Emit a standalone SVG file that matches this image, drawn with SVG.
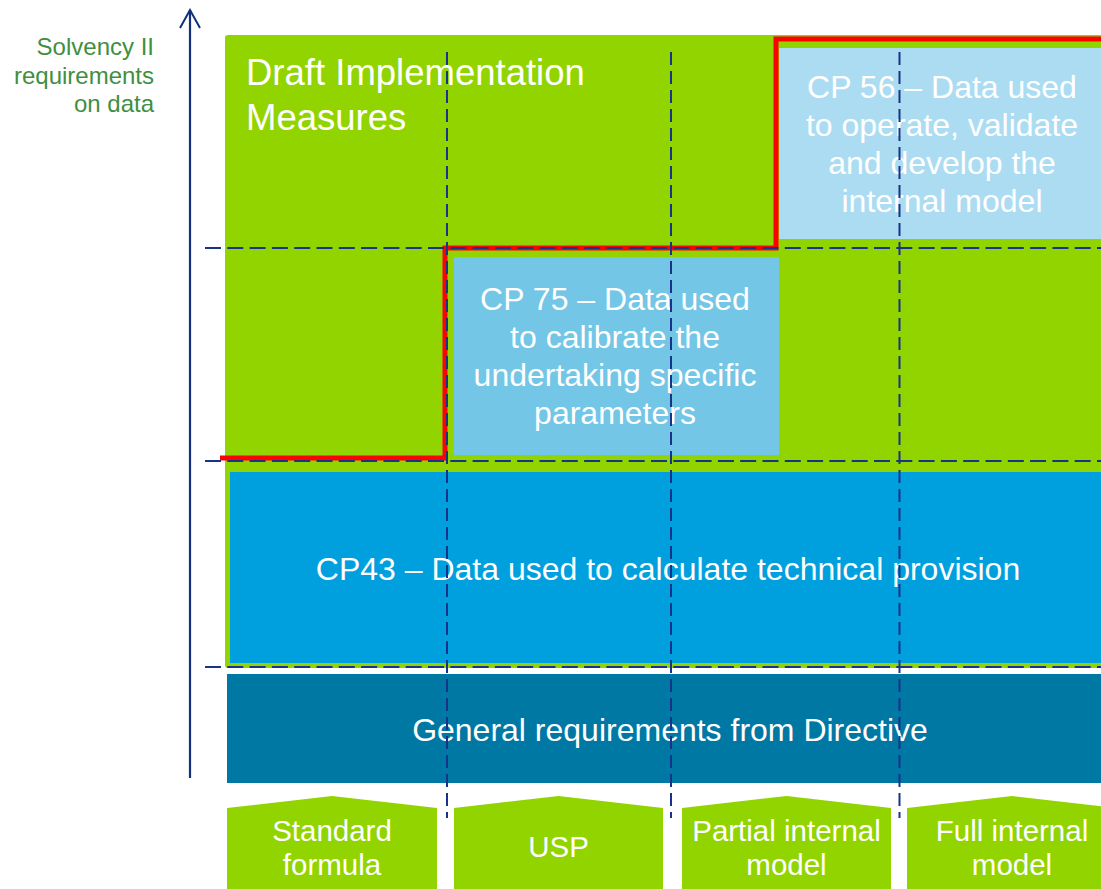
<svg xmlns="http://www.w3.org/2000/svg" width="1101" height="889" viewBox="0 0 1101 889">
  <style>
    text { font-family: "Liberation Sans", Arial, sans-serif; fill: #ffffff; }
    .lbl { font-size: 32px; text-anchor: middle; }
    .tab { font-size: 29.5px; text-anchor: middle; }
    .axis-lbl { font-size: 24px; fill: #3f8f3f; text-anchor: end; }
    .grid { stroke: #17338a; stroke-width: 2; fill: none; }
    .grid-h { stroke-dasharray: 16 6.3; }
    .grid-v { stroke-dasharray: 13 6; }
    .tabshape { fill: #92d400; }
  </style>
  <defs>
    <marker id="openArrow" viewBox="0 0 22 22" refX="20" refY="11" markerWidth="22" markerHeight="22" markerUnits="userSpaceOnUse" orient="auto">
      <path d="M2,1 L20,11 L2,21" fill="none" stroke="#13307a" stroke-width="2"/>
    </marker>
  </defs>

  <rect width="1101" height="889" fill="#ffffff"/>

  <!-- vertical axis -->
  <g id="axis">
    <line x1="190" y1="778" x2="190" y2="10" stroke="#13307a" stroke-width="2.2" marker-end="url(#openArrow)"/>
    <text class="axis-lbl" x="154" y="55">Solvency II</text>
    <text class="axis-lbl" x="154" y="84">requirements</text>
    <text class="axis-lbl" x="154" y="112">on data</text>
  </g>

  <!-- implementation measures area -->
  <g id="draft-measures">
    <rect x="225" y="35" width="890" height="633" rx="3" fill="#92d400"/>
    <text x="246" y="85" style="font-size:36.5px">Draft Implementation</text>
    <text x="246" y="130" style="font-size:36.5px">Measures</text>
  </g>

  <g id="cp56">
    <rect x="779" y="48" width="330" height="191" fill="#acdcf1"/>
    <text class="lbl" x="942" y="98">CP 56 – Data used</text>
    <text class="lbl" x="942" y="136">to operate, validate</text>
    <text class="lbl" x="942" y="174">and develop the</text>
    <text class="lbl" x="942" y="212">internal model</text>
  </g>

  <g id="cp75">
    <rect x="454" y="257" width="325" height="198" fill="#73c6e6"/>
    <text class="lbl" x="615" y="310">CP 75 – Data used</text>
    <text class="lbl" x="615" y="348">to calibrate the</text>
    <text class="lbl" x="615" y="386">undertaking specific</text>
    <text class="lbl" x="615" y="424">parameters</text>
  </g>

  <g id="cp43">
    <rect x="230" y="472" width="880" height="191" fill="#00a0de"/>
    <text class="lbl" x="668" y="580">CP43 – Data used to calculate technical provision</text>
  </g>

  <g id="general">
    <rect x="227" y="674" width="880" height="109" fill="#0078a4"/>
    <text class="lbl" x="670" y="741">General requirements from Directive</text>
  </g>

  <!-- approach tabs -->
  <g id="tab-standard">
    <polygon class="tabshape" points="227,808 332,796 437,808 437,889 227,889"/>
    <text class="tab" x="332" y="841">Standard</text>
    <text class="tab" x="332" y="875">formula</text>
  </g>
  <g id="tab-usp">
    <polygon class="tabshape" points="454,808 558.5,796 663,808 663,889 454,889"/>
    <text class="tab" x="558.5" y="857">USP</text>
  </g>
  <g id="tab-partial">
    <polygon class="tabshape" points="682,808 786.5,796 891,808 891,889 682,889"/>
    <text class="tab" x="786.5" y="841">Partial internal</text>
    <text class="tab" x="786.5" y="875">model</text>
  </g>
  <g id="tab-full">
    <polygon class="tabshape" points="907,808 1012,796 1117,808 1117,889 907,889"/>
    <text class="tab" x="1012" y="841">Full internal</text>
    <text class="tab" x="1012" y="875">model</text>
  </g>

  <!-- connectors: requirement boundary and dashed grid -->
  <g id="connectors">
    <path d="M220,458 L445,458 L445,248 L776,248 L776,39 L1101,39" fill="none" stroke="#ff0000" stroke-width="5" stroke-linejoin="miter"/>
    <line class="grid grid-h" x1="205" y1="248" x2="1101" y2="248"/>
    <line class="grid grid-h" x1="205" y1="461" x2="1101" y2="461"/>
    <line class="grid grid-h" x1="205" y1="667" x2="1101" y2="667"/>
    <line class="grid grid-v" x1="447" y1="52" x2="447" y2="818"/>
    <line class="grid grid-v" x1="671" y1="52" x2="671" y2="818"/>
    <line class="grid grid-v" x1="899.5" y1="52" x2="899.5" y2="818"/>
  </g>
</svg>
